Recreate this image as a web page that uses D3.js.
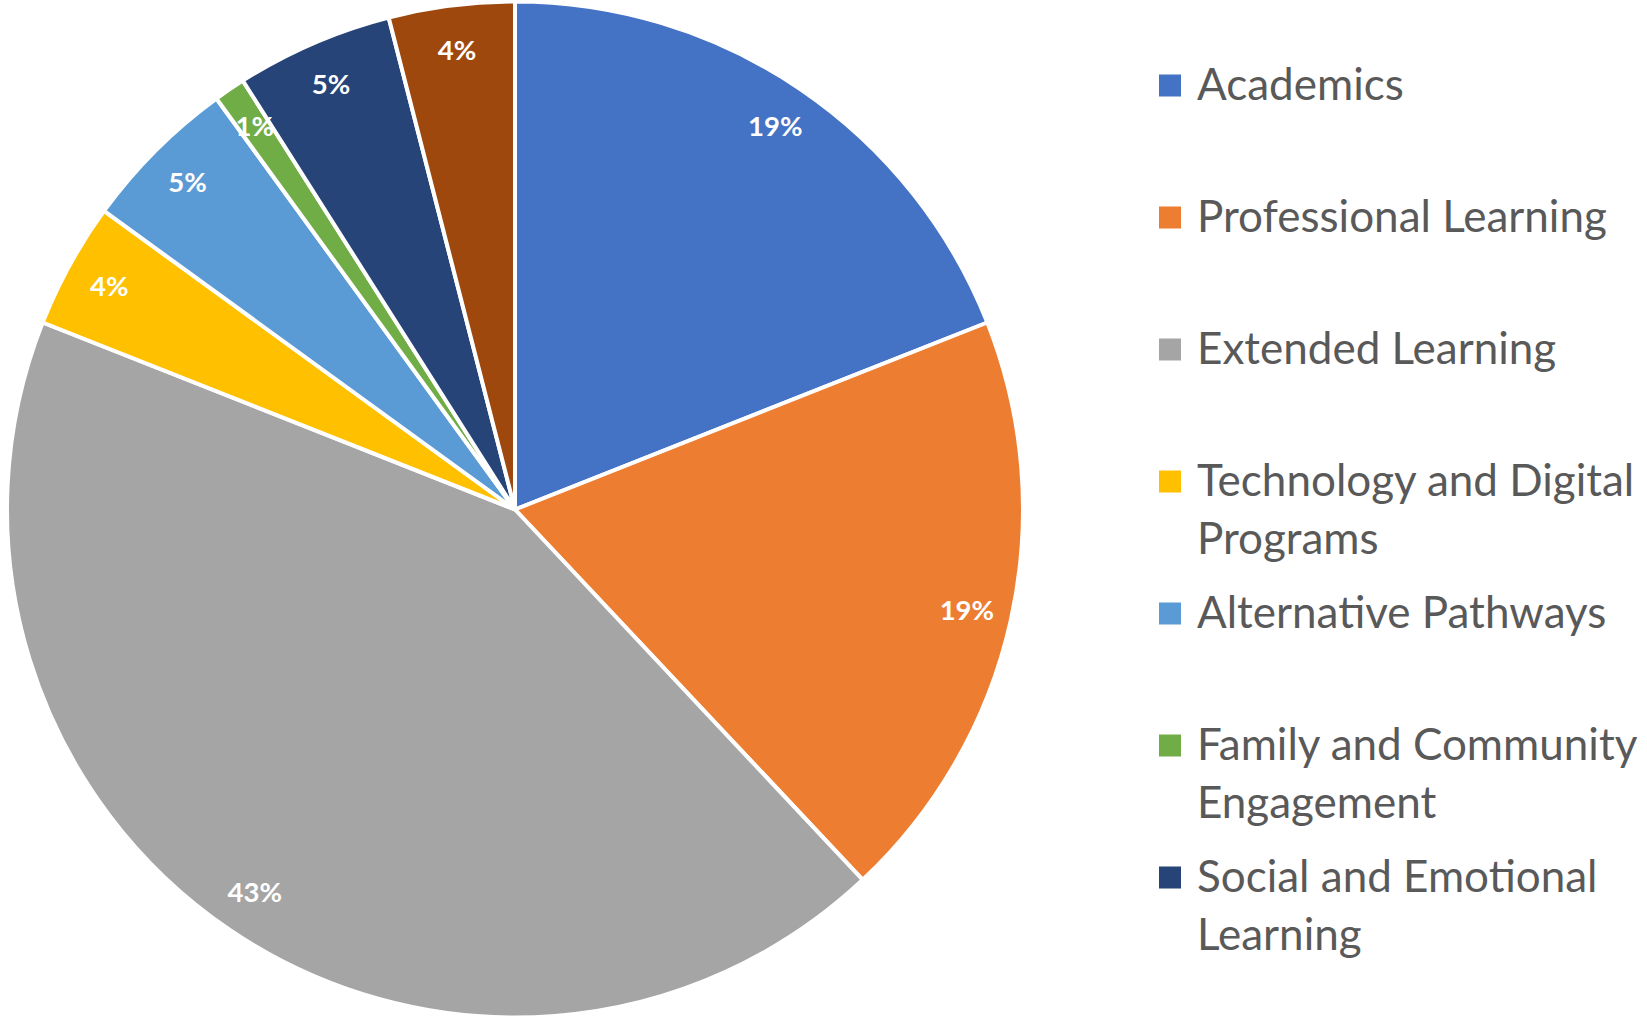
<!DOCTYPE html>
<html>
<head>
<meta charset="utf-8">
<script src="https://cdn.jsdelivr.net/npm/d3@7.9.0/dist/d3.min.js"></script>
<style>
  body { margin: 0; background: #fff; }
  svg { display: block; font-family: Lato, "Open Sans", sans-serif; }
</style>
</head>
<body>
<svg id="chart" width="1647" height="1020"></svg>
<script>
const categories = [
  'Academics',
  'Professional Learning',
  'Extended Learning',
  'Technology and Digital Programs',
  'Alternative Pathways',
  'Family and Community Engagement',
  'Social and Emotional Learning',
  'Other'
];
const shares = [19, 19, 43, 4, 5, 1, 5, 4];
const colorList = ['#4472C4', '#ED7D31', '#A5A5A5', '#FFC000', '#5B9BD5', '#70AD47', '#264478', '#9E480E'];
// legend only has room for the first seven entries
const legendCount = 7;

const width = 1647, height = 1020;
const cx = 515, cy = 509.5, radius = 508;

const svg = d3.select('#chart');
const color = d3.scaleOrdinal(categories, colorList);

const data = categories.map((c, i) => ({ label: c, value: shares[i] }));
const pie = d3.pie().value((d) => d.value).sort(null);
const arcs = pie(data);

const arcGen = d3.arc().innerRadius(0).outerRadius(radius);
const labelArc = d3.arc().innerRadius(463).outerRadius(463);

const g = svg.append('g').attr('transform', `translate(${cx},${cy})`);

// slices
g.selectAll('path')
  .data(arcs)
  .join('path')
  .attr('d', arcGen)
  .attr('fill', (d) => color(d.data.label))
  .attr('stroke', '#fff')
  .attr('stroke-width', 4)
  .attr('stroke-linejoin', 'round');

// percent labels
g.selectAll('text')
  .data(arcs)
  .join('text')
  .attr('transform', (d) => `translate(${labelArc.centroid(d)})`)
  .attr('text-anchor', 'middle')
  .attr('dy', '0.36em')
  .attr('fill', '#fff')
  .attr('font-weight', 700)
  .attr('font-size', 27.5)
  .text((d) => `${d.data.value}%`);

// legend
const legendNames = categories.slice(0, legendCount);
const ly = d3.scalePoint().domain(legendNames).range([85.5, 85.5 + 132 * (legendCount - 1)]);

const legend = svg.append('g');
const items = legend.selectAll('g')
  .data(legendNames)
  .join('g')
  .attr('transform', (d) => `translate(0,${ly(d)})`);

items.append('rect')
  .attr('x', 1159)
  .attr('y', -11)
  .attr('width', 22)
  .attr('height', 22)
  .attr('fill', (d) => color(d));

const maxWidth = 452;
items.append('text')
  .attr('x', 1197)
  .attr('y', 14)
  .attr('font-size', 44)
  .attr('fill', '#595959')
  .each(function (d) {
    const text = d3.select(this);
    const words = d.split(' ');
    let line = [];
    let tspan = text.append('tspan').attr('x', 1197).attr('dy', 0);
    words.forEach((w) => {
      line.push(w);
      tspan.text(line.join(' '));
      if (tspan.node().getComputedTextLength() > maxWidth && line.length > 1) {
        line.pop();
        tspan.text(line.join(' '));
        line = [w];
        tspan = text.append('tspan').attr('x', 1197).attr('dy', 58).text(w);
      }
    });
  });
</script>
</body>
</html>
